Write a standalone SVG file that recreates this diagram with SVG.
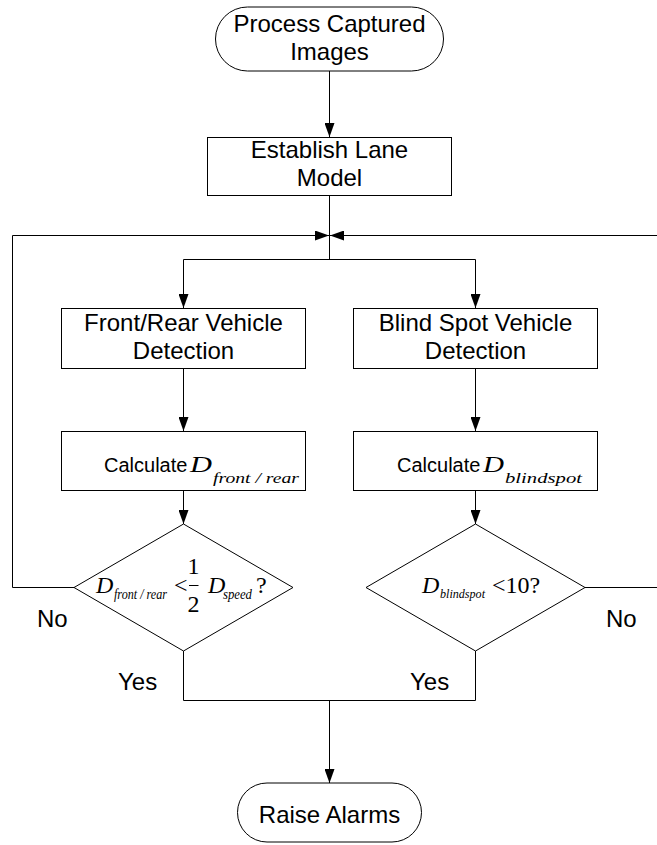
<svg xmlns="http://www.w3.org/2000/svg" width="657" height="845" viewBox="0 0 657 845">
<style>
.shape{fill:#fff;stroke:#000;stroke-width:1}
.ln{fill:none;stroke:#000;stroke-width:1}
.t{font-family:"Liberation Sans",Arial,sans-serif;font-size:24px;fill:#000;text-anchor:middle}
.ts{font-family:"Liberation Sans",Arial,sans-serif;font-size:20px;fill:#000}
.m{font-family:"Liberation Serif","Times New Roman",serif;font-style:italic;font-size:24px;fill:#000}
.mr{font-family:"Liberation Serif","Times New Roman",serif;font-size:24px;fill:#000}
.sub{font-family:"Liberation Serif","Times New Roman",serif;font-style:italic;fill:#000}
.lbl{font-family:"Liberation Sans",Arial,sans-serif;font-size:24px;fill:#000}
</style>
<defs>
<marker id="arr" markerUnits="userSpaceOnUse" markerWidth="14" markerHeight="10" refX="14" refY="5" orient="auto">
<path d="M0,0 L14,5 L0,10 z" fill="#000"/>
</marker>
</defs>
<rect width="657" height="845" fill="#fff"/>
<g id="connectors">
<path class="ln" d="M329.5,71 V137" marker-end="url(#arr)"/>
<path class="ln" d="M329.5,196 V259.5"/>
<path class="ln" d="M183.5,259.5 H475.5"/>
<path class="ln" d="M183.5,259.5 V308" marker-end="url(#arr)"/>
<path class="ln" d="M475.5,259.5 V308" marker-end="url(#arr)"/>
<path class="ln" d="M183.5,368 V431" marker-end="url(#arr)"/>
<path class="ln" d="M475.5,368 V431" marker-end="url(#arr)"/>
<path class="ln" d="M183.5,491 V524" marker-end="url(#arr)"/>
<path class="ln" d="M475.5,491 V524" marker-end="url(#arr)"/>
<path class="ln" d="M74,587.5 H12.5 V235.5 H329" marker-end="url(#arr)"/>
<path class="ln" d="M585,587.5 H680 V235.5 H330" marker-end="url(#arr)"/>
<path class="ln" d="M183.5,651 V700.5 H475.5 V651"/>
<path class="ln" d="M329.5,700.5 V783" marker-end="url(#arr)"/>
</g>
<g id="start">
<rect class="shape" x="215.5" y="7" width="228" height="64" rx="32" ry="32"/>
<text class="t" x="329.5" y="32">Process Captured</text>
<text class="t" x="329.5" y="60">Images</text>
</g>
<g id="lane">
<rect class="shape" x="207.5" y="137.5" width="244" height="58"/>
<text class="t" x="329.5" y="158">Establish Lane</text>
<text class="t" x="329.5" y="186">Model</text>
</g>
<g id="frontdet">
<rect class="shape" x="61.5" y="308.5" width="244" height="60"/>
<text class="t" x="183.5" y="331">Front/Rear Vehicle</text>
<text class="t" x="183.5" y="359">Detection</text>
</g>
<g id="blinddet">
<rect class="shape" x="353.5" y="308.5" width="244" height="60"/>
<text class="t" x="475.5" y="331">Blind Spot Vehicle</text>
<text class="t" x="475.5" y="359">Detection</text>
</g>
<g id="calcfront">
<rect class="shape" x="61.5" y="431.5" width="244" height="59"/>
<text class="ts" x="104" y="472">Calculate</text>
<text class="m" x="190" y="472" textLength="22" lengthAdjust="spacingAndGlyphs">D</text>
<text class="sub" x="213" y="483" font-size="15" textLength="86" lengthAdjust="spacingAndGlyphs">front / rear</text>
</g>
<g id="calcblind">
<rect class="shape" x="353.5" y="431.5" width="244" height="59"/>
<text class="ts" x="397" y="472">Calculate</text>
<text class="m" x="483" y="472" textLength="21" lengthAdjust="spacingAndGlyphs">D</text>
<text class="sub" x="505" y="483" font-size="15" textLength="77" lengthAdjust="spacingAndGlyphs">blindspot</text>
</g>
<g id="decfront">
<polygon class="shape" points="74,587.5 183.5,524 293,587.5 183.5,651"/>
<text class="m" x="96" y="593">D</text>
<text class="sub" x="114" y="599" font-size="14" textLength="53" lengthAdjust="spacingAndGlyphs">front / rear</text>
<text class="mr" x="174" y="593">&lt;</text>
<text class="mr" x="193.5" y="574" text-anchor="middle">1</text>
<line x1="189" y1="585.5" x2="198.5" y2="585.5" stroke="#000" stroke-width="1"/>
<text class="mr" x="193.5" y="612" text-anchor="middle">2</text>
<text class="m" x="208" y="593">D</text>
<text class="sub" x="223" y="599" font-size="14" textLength="29" lengthAdjust="spacingAndGlyphs">speed</text>
<text class="mr" x="256" y="593">?</text>
</g>
<g id="decblind">
<polygon class="shape" points="366,587.5 475.5,524 585,587.5 475.5,651"/>
<text class="m" x="422" y="593">D</text>
<text class="sub" x="440" y="598" font-size="13" textLength="45" lengthAdjust="spacingAndGlyphs">blindspot</text>
<text class="mr" x="492" y="593">&lt;10?</text>
</g>
<g id="alarm">
<rect class="shape" x="237.5" y="783" width="184" height="59" rx="29.5" ry="29.5"/>
<text class="t" x="329.5" y="823">Raise Alarms</text>
</g>
<g id="labels">
<text class="lbl" x="37" y="627">No</text>
<text class="lbl" x="606" y="627">No</text>
<text class="lbl" x="118" y="690">Yes</text>
<text class="lbl" x="410" y="690">Yes</text>
</g>
</svg>
